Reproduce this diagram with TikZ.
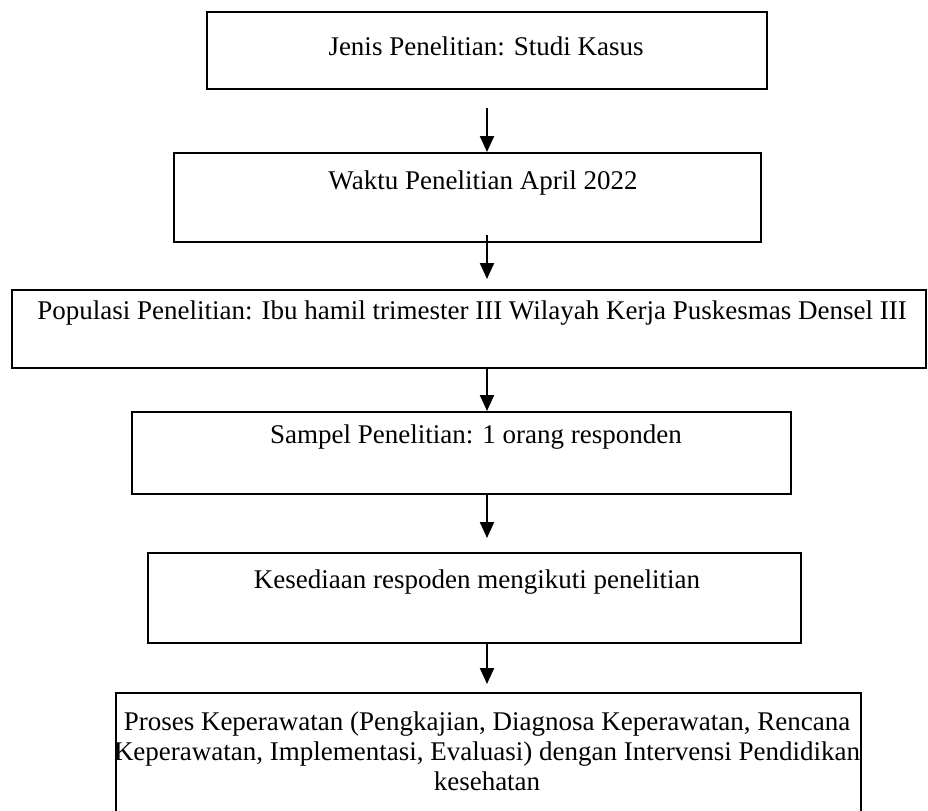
\documentclass[tikz,border=0pt]{standalone}
\usepackage{fontspec}
\setmainfont{Liberation Serif}
\usetikzlibrary{arrows.meta}

\begin{document}
\begin{tikzpicture}[x=0.5pt, y=-0.5pt,
    kotak/.style={draw, line width=1.1pt, anchor=north west, inner sep=0pt},
    teks/.style={font=\fontsize{13.5}{15}\selectfont, inner sep=0pt, align=center},
    panah/.style={line width=1.1pt, -{Triangle[length=8pt,width=7pt]}}]
  \clip (0,0) rectangle (928,810); % ukuran gambar
  % kotak alur
  \node[kotak, minimum width=280pt, minimum height=38.5pt] (box1) at (206,11) {};
  \node[kotak, minimum width=293.5pt, minimum height=44.5pt] (box2) at (173,152) {};
  \node[kotak, minimum width=457pt, minimum height=39pt] (box3) at (11,289) {};
  \node[kotak, minimum width=329.5pt, minimum height=41pt] (box4) at (131,411) {};
  \node[kotak, minimum width=326.5pt, minimum height=45pt] (box5) at (147,552) {};
  \node[kotak, minimum width=372.5pt, minimum height=75pt] (box6) at (115,692) {};
  % teks
  \node[teks] (t1) at (486,46) {Jenis Penelitian: Studi Kasus};
  \node[teks] (t2) at (483,183) {Waktu Penelitian April 2022};
  \node[teks] (t3) at (472,313) {Populasi Penelitian: Ibu hamil trimester III Wilayah Kerja Puskesmas Densel III};
  \node[teks] (t4) at (476,437) {Sampel Penelitian: 1 orang responden};
  \node[teks] (t5) at (477,582) {Kesediaan respoden mengikuti penelitian};
  \node[teks, anchor=north] (t6) at (487,711) {Proses Keperawatan (Pengkajian, Diagnosa Keperawatan, Rencana\\
    Keperawatan, Implementasi, Evaluasi) dengan Intervensi Pendidikan\\
    kesehatan};
  % panah
  \coordinate (p1) at (487,108);
  \coordinate (p2) at (487,235);
  \coordinate (q2) at (487,279);
  \coordinate (q4) at (487,538);
  \coordinate (q5) at (487,684);
  \draw[panah] (p1) -- (p1 |- box2.north);
  \draw[panah] (p2) -- (q2);
  \draw[panah] (box3.south -| p1) -- (box4.north -| p1);
  \draw[panah] (box4.south -| p1) -- (q4);
  \draw[panah] (box5.south -| p1) -- (q5);
\end{tikzpicture}
\end{document}
